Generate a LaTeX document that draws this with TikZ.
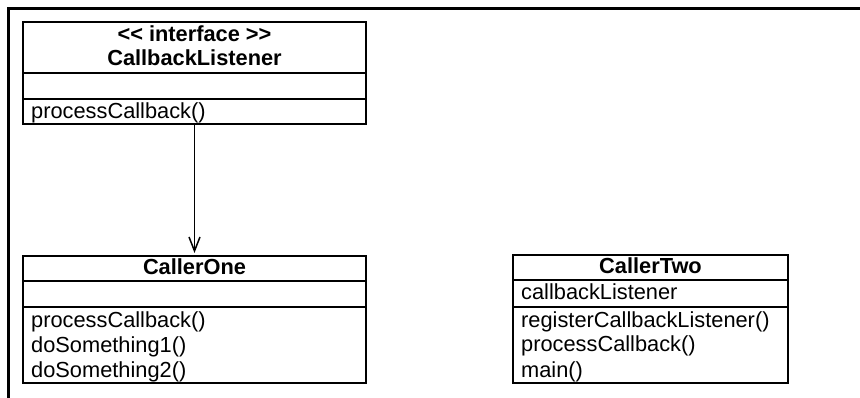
\documentclass[tikz,border=0pt]{standalone}
\usepackage{fontspec}
\setmainfont{Liberation Sans}
\usetikzlibrary{arrows.meta}
\tikzset{
  umlbox/.style={draw=black, line width=1.3pt, rectangle, inner sep=0pt, outer sep=0pt},
  sep/.style={draw=black, line width=1.3pt},
  txt/.style={anchor=base west, inner sep=0pt, font=\fontsize{21.8}{25}\selectfont},
  ttl/.style={anchor=base, inner sep=0pt, font=\fontsize{21.8}{25}\selectfont\bfseries},
  frame/.style={draw=black, line width=3pt},
  assoc/.style={draw=black, line width=1.5pt, -{Straight Barb[length=14pt,width=11pt,line width=1.5pt]}, shorten >=3pt}
}
\begin{document}
\begin{tikzpicture}[x=1pt,y=-1pt]
\useasboundingbox (0,0) rectangle (860,398);
% outer frame (top and left)
\draw[frame] (8.5,400) -- (8.5,8.5) -- (862,8.5);

% CallbackListener interface
\node[umlbox, minimum width=343pt, minimum height=102pt] (iface) at (194.5,73) {};
\draw[sep] (23,73) -- (366,73);
\draw[sep] (23,99) -- (366,99);
\node[ttl] (ifst) at (194.5,41.5) {{<}{<} interface {>}{>}};
\node[ttl] (ifnm) at (194.5,65.5) {CallbackListener};
\node[txt] (ifm1) at (31,119) {processCallback()};

% CallerOne
\node[umlbox, minimum width=343pt, minimum height=127pt] (c1) at (194.5,319.5) {};
\draw[sep] (23,281) -- (366,281);
\draw[sep] (23,307) -- (366,307);
\node[ttl] (c1nm) at (194.5,275) {CallerOne};
\node[txt] (c1m1) at (31,327.5) {processCallback()};
\node[txt] (c1m2) at (31,352.5) {doSomething1()};
\node[txt] (c1m3) at (31,377.5) {doSomething2()};

% CallerTwo
\node[umlbox, minimum width=275pt, minimum height=128pt] (c2) at (650.5,319) {};
\draw[sep] (513,280) -- (788,280);
\draw[sep] (513,307) -- (788,307);
\node[ttl] (c2nm) at (650.5,274) {CallerTwo};
\node[txt] (c2a1) at (521,299) {callbackListener};
\node[txt] (c2m1) at (521,327) {registerCallbackListener()};
\node[txt] (c2m2) at (521,352) {processCallback()};
\node[txt] (c2m3) at (521,377) {main()};

% association
\draw[assoc] (iface.south) -- (c1.north);
\end{tikzpicture}
\end{document}
